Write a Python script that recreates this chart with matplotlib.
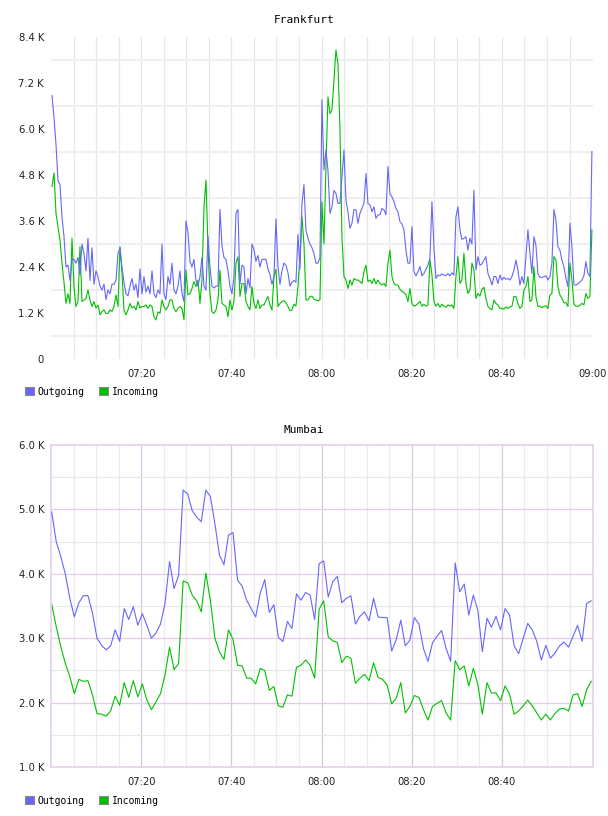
import numpy as np
import matplotlib
matplotlib.use('Agg')
import matplotlib.pyplot as plt
from matplotlib.patches import Patch

# Frankfurt, values in K, sampled evenly between 07:00:13 and 08:59:58
f_start, f_end = 0.22, 119.96   # minutes after 07:00
f_out = [
    6.87, 6.3, 5.6, 4.65, 4.55, 3.7, 3.2, 2.4, 2.45, 2.05,
    2.6, 2.6, 2.5, 2.65, 2.2, 3.0, 2.75, 2.3, 3.15, 2.05,
    2.9, 1.95, 2.3, 2.15, 1.9, 1.8, 1.95, 1.55, 1.8, 1.7,
    1.95, 1.95, 2.05, 2.75, 2.9, 2.4, 2.0, 1.7, 1.65, 1.9,
    2.1, 1.8, 1.95, 1.6, 2.35, 1.7, 2.15, 1.75, 1.9, 1.7,
    2.3, 1.7, 1.6, 1.8, 1.7, 3.0, 1.7, 1.55, 2.15, 1.95,
    2.5, 1.8, 1.7, 1.9, 2.3, 1.7, 1.5, 3.6, 3.3, 2.55,
    2.4, 2.6, 2.05, 1.9, 2.15, 2.65, 1.9, 1.8, 3.2, 2.4,
    1.9, 1.85, 1.9, 1.9, 3.9, 2.95, 2.65, 2.6, 2.3, 1.9,
    1.7, 2.15, 3.8, 3.9, 1.95, 2.45, 2.4, 1.7, 2.1, 1.85,
    3.0, 2.85, 2.55, 2.7, 2.4, 2.6, 2.6, 2.6, 2.35, 2.2,
    1.95, 2.15, 3.65, 2.4, 1.95, 2.3, 2.5, 2.45, 2.25, 1.9,
    2.0, 2.05, 2.0, 3.25, 2.35, 4.05, 4.55, 3.35, 3.15, 3.0,
    2.9, 2.75, 2.5, 2.5, 2.65,
    6.76, 4.93, 5.45, 4.93, 3.8, 3.97, 4.4, 4.32, 4.06, 4.06,
    4.76, 5.45, 4.15, 3.84, 3.41, 3.54, 3.9, 3.89, 3.54, 3.8,
    3.93, 4.06, 4.84, 4.06, 4.02, 3.84, 3.97, 3.67, 3.76, 3.76,
    3.93, 3.89, 3.76, 5.02, 4.32, 4.23, 4.1, 3.93, 3.84, 3.58,
    3.52, 3.37, 2.84, 2.5, 2.5, 3.45,
    2.28, 2.17, 2.28, 2.41, 2.17, 2.23, 2.34, 2.45, 2.63, 4.1,
    2.9, 2.1, 2.19, 2.17, 2.22, 2.19, 2.17, 2.23, 2.17, 2.25,
    2.19, 3.71, 3.97, 3.37, 3.12, 3.15, 3.19, 2.84, 3.15, 3.0,
    4.4, 2.32, 2.67, 2.45, 2.48, 2.58, 2.67, 2.23, 2.1, 1.93,
    2.15, 2.15, 1.97, 2.19, 2.06,
    2.13, 2.08, 2.1, 2.06, 2.15, 2.32, 2.58, 2.32, 1.93, 2.15,
    1.97, 2.67, 3.37, 2.76, 2.23, 3.19, 2.97, 2.23, 2.13, 2.13,
    2.15, 2.17, 2.06, 2.15, 2.5, 3.9, 3.63, 2.93, 2.84, 2.58,
    2.41, 2.1, 1.89, 3.54, 2.93, 1.93, 1.93, 1.96, 2.01, 2.06,
    2.17, 2.54, 2.23, 2.15, 5.41,
]
f_in = [
    4.5, 4.85, 3.8, 3.45, 3.1, 2.5, 2.0, 1.45, 1.7, 1.45,
    3.15, 1.88, 1.37, 1.5, 2.93, 1.5, 1.54, 1.58, 1.8, 1.54,
    1.37, 1.5, 1.33, 1.41, 1.15, 1.24, 1.28, 1.19, 1.19, 1.28,
    1.24, 1.37, 1.67, 1.37, 2.93, 2.24, 1.28, 1.15, 1.28, 1.45,
    1.33, 1.37, 1.28, 1.5, 1.33, 1.37,
    1.37, 1.41, 1.32, 1.41, 1.37, 1.1, 1.02, 1.23, 1.19, 1.54,
    1.37, 1.28, 1.37, 1.54, 1.54, 1.32, 1.23, 1.32, 1.37, 1.32,
    1.02, 2.32, 1.67, 1.71, 1.84, 2.02, 1.89, 2.06, 1.45, 2.06,
    3.97, 4.67, 2.93, 1.71, 1.23, 1.19, 1.28, 1.54, 2.32, 1.45,
    1.41, 1.37, 1.1, 1.54, 1.28,
    1.5, 2.5, 2.67, 1.63, 1.97, 1.97, 1.5, 1.37, 1.28, 1.89,
    1.45, 1.32, 1.54, 1.32, 1.41, 1.41, 1.52, 1.63, 1.41, 1.28,
    2.15, 2.34, 1.37, 1.45, 1.5, 1.52, 1.47, 1.37, 1.26, 1.28,
    1.43, 1.38, 1.89, 2.67, 3.71, 3.0, 1.54, 1.54, 1.63, 1.64,
    1.56, 1.54, 1.52, 1.54,
    4.1, 3.0, 5.0, 6.84, 6.4, 6.5, 7.28, 8.06, 7.7, 6.0,
    3.2, 2.15, 2.06, 1.84, 2.06, 1.93, 2.1, 2.06, 2.06, 2.02,
    1.97, 2.28, 2.45, 2.02, 2.06, 1.97, 2.1, 1.96, 2.06, 1.97,
    1.93, 1.97, 1.89, 2.5, 2.84, 2.15, 1.97, 1.93, 1.93, 1.82,
    1.76, 1.74, 1.67, 1.5, 1.84, 1.45,
    1.38, 1.4, 1.45, 1.5, 1.38, 1.43, 1.38, 1.41, 2.6, 2.2,
    1.5, 1.38, 1.45, 1.35, 1.43, 1.38, 1.35, 1.41, 1.38, 1.41,
    1.32, 2.15, 2.67, 1.97, 2.06, 2.76, 1.97, 1.71, 1.8, 2.5,
    2.32, 1.58, 1.71, 1.64, 1.82, 1.87, 1.58, 1.37, 1.32, 1.28,
    1.54, 1.45, 1.41, 1.32, 1.32,
    1.3, 1.36, 1.32, 1.36, 1.37, 1.63, 1.63, 1.45, 1.32, 1.37,
    1.8, 1.89, 2.15, 1.5, 1.54, 2.41, 1.63, 1.37, 1.38, 1.34,
    1.37, 1.39, 1.32, 1.67, 1.71, 2.67, 2.58, 1.89, 1.67, 1.58,
    1.47, 1.47, 1.37, 2.5, 2.06, 1.43, 1.38, 1.37, 1.4, 1.45,
    1.41, 1.71, 1.58, 1.63, 3.37,
]

# Mumbai, one sample a minute
m_start, m_end = 0.15, 119.8
m_out = [
    4.96, 4.5, 4.27, 4.0, 3.62, 3.33, 3.55, 3.66, 3.66, 3.39,
    3.0, 2.89, 2.82, 2.88, 3.13, 2.95, 3.46, 3.29, 3.49, 3.2,
    3.38, 3.2, 3.0, 3.08, 3.22, 3.54, 4.19, 3.77, 3.98, 5.3,
    5.24, 4.98, 4.88, 4.81, 5.3, 5.2, 4.78, 4.29, 4.14, 4.6,
    4.64, 3.9, 3.81, 3.59, 3.46, 3.33, 3.7, 3.91, 3.4, 3.52,
    3.01, 2.95, 3.26, 3.15, 3.69, 3.59, 3.71, 3.67, 3.29, 4.16,
    4.2, 3.64, 3.88, 3.96, 3.55, 3.62, 3.66, 3.22, 3.34, 3.41,
    3.27, 3.62, 3.33, 3.32, 3.32, 2.8, 2.98, 3.28, 2.88, 2.97,
    3.32, 3.22, 2.84, 2.64, 2.93, 3.03, 3.12, 2.84, 2.64, 4.17,
    3.72, 3.84, 3.36, 3.67, 3.43, 2.79, 3.31, 3.17, 3.34, 3.13,
    3.46, 3.36, 2.88, 2.76, 3.0, 3.23, 3.13, 2.95, 2.66, 2.89,
    2.69, 2.77, 2.88, 2.94, 2.86, 3.03, 3.2, 2.95, 3.54, 3.58,
]
m_in = [
    3.53, 3.18, 2.87, 2.61, 2.4, 2.14, 2.36, 2.33, 2.34, 2.12,
    1.83, 1.82, 1.79, 1.87, 2.1, 1.96, 2.31, 2.08, 2.34, 2.09,
    2.29, 2.04, 1.89, 2.01, 2.14, 2.43, 2.86, 2.51, 2.61, 3.89,
    3.86, 3.67, 3.58, 3.41, 4.01, 3.59, 3.0, 2.79, 2.67, 3.13,
    2.98, 2.58, 2.57, 2.38, 2.38, 2.29, 2.53, 2.5, 2.19, 2.25,
    1.95, 1.93, 2.12, 2.1, 2.55, 2.58, 2.66, 2.58, 2.38, 3.45,
    3.58, 3.02, 2.96, 2.93, 2.62, 2.72, 2.69, 2.3, 2.38, 2.44,
    2.34, 2.62, 2.39, 2.36, 2.27, 1.98, 2.07, 2.31, 1.84, 1.94,
    2.11, 2.08, 1.89, 1.73, 1.94, 1.99, 2.03, 1.84, 1.73, 2.65,
    2.51, 2.57, 2.26, 2.53, 2.28, 1.82, 2.31, 2.15, 2.15, 2.03,
    2.26, 2.13, 1.82, 1.87, 1.95, 2.04, 1.95, 1.84, 1.73, 1.82,
    1.73, 1.83, 1.9, 1.91, 1.87, 2.12, 2.14, 1.94, 2.2, 2.33,
]

f_yticks = [0, 1.2, 2.4, 3.6, 4.8, 6.0, 7.2, 8.4]
f_ylabels = ['0', '1.2 K', '2.4 K', '3.6 K', '4.8 K', '6.0 K', '7.2 K', '8.4 K']
m_yticks = [1, 2, 3, 4, 5, 6]
m_ylabels = ['1.0 K', '2.0 K', '3.0 K', '4.0 K', '5.0 K', '6.0 K']
f_xticks = [20, 40, 60, 80, 100, 120]
f_xlabels = ['07:20', '07:40', '08:00', '08:20', '08:40', '09:00']
m_xticks = [20, 40, 60, 80, 100]
m_xlabels = ['07:20', '07:40', '08:00', '08:20', '08:40']
series = ['Outgoing', 'Incoming']

c_out = '#6666ff'
c_in = '#00c000'
W, H = 608, 816

fig = plt.figure(figsize=(W / 100, H / 100), dpi=100)
ax1 = fig.add_axes([51 / W, 1 - 359 / H, 542 / W, 322 / H])
ax2 = fig.add_axes([51 / W, 1 - 767 / H, 542 / W, 322 / H])

tick_font = dict(family='DejaVu Sans', size=7.2)
mono = 'DejaVu Sans Mono'

# ---- Frankfurt
f_t = np.linspace(f_start, f_end, len(f_out))
for m in range(5, 120, 5):
    ax1.axvline(m, color='#e6e6e6', lw=0.9, zorder=0)
for v in np.arange(0.6, 8.4, 1.2):
    ax1.axhline(v, color='#efefef', lw=1.5, zorder=0)
ax1.plot(f_t, f_out, color=c_out, lw=0.8, zorder=3)
ax1.plot(f_t, f_in, color=c_in, lw=0.8, zorder=2)
ax1.set_xlim(0, 120.2)
ax1.set_ylim(0, 8.4)
ax1.set_yticks(f_yticks)
ax1.set_yticklabels(f_ylabels, **tick_font)
ax1.set_xticks(f_xticks)
ax1.set_xticklabels(f_xlabels, **tick_font)
for s in ax1.spines.values():
    s.set_visible(False)

# ---- Mumbai
m_t = np.linspace(m_start, m_end, len(m_out))
for m in range(5, 120, 5):
    col = '#dcc4e2' if m % 20 == 0 else '#ececec'
    ax2.axvline(m, color=col, lw=0.9, zorder=0)
for v in np.arange(1.5, 6.0, 0.5):
    col = '#e2cce6' if v % 1 == 0 else '#e8e8e8'
    ax2.axhline(v, color=col, lw=0.9, zorder=0)
ax2.plot(m_t, m_out, color=c_out, lw=0.8, zorder=3)
ax2.plot(m_t, m_in, color=c_in, lw=0.8, zorder=2)
ax2.set_xlim(0, 120.2)
ax2.set_ylim(1, 6)
ax2.set_yticks(m_yticks)
ax2.set_yticklabels(m_ylabels, **tick_font)
ax2.set_xticks(m_xticks)
ax2.set_xticklabels(m_xlabels, **tick_font)
for s in ax2.spines.values():
    s.set_color('#e4d0ea')
    s.set_linewidth(1.2)

for ax in (ax1, ax2):
    ax.tick_params(length=0, colors='#222222')
    ax.tick_params(axis='y', pad=5)
    ax.tick_params(axis='x', pad=7)

fig.text(0.5, 1 - 20 / H, 'Frankfurt', ha='center', va='center', family=mono, size=8)
fig.text(0.5, 1 - 430 / H, 'Mumbai', ha='center', va='center', family=mono, size=8)

handles = [Patch(facecolor=c_out, edgecolor='#888888', lw=0.8),
           Patch(facecolor=c_in, edgecolor='#888888', lw=0.8)]
for ypix in (380, 789):
    fig.legend(handles, series, loc='upper left', bbox_to_anchor=(18 / W, 1 - ypix / H),
               ncol=2, frameon=False, handlelength=0.9, handleheight=0.9,
               handletextpad=0.4, columnspacing=1.5, borderpad=0.2,
               prop=dict(family=mono, size=7))

fig.savefig('out.png', dpi=100)
